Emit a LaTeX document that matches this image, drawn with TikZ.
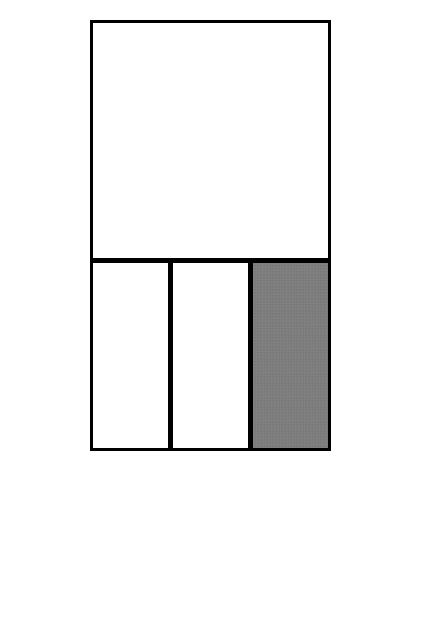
\documentclass[tikz,border=0pt]{standalone}
\usetikzlibrary{patterns}
\begin{document}
\begin{tikzpicture}[x=1pt,y=-1pt,
  frame/.style={draw=black,line width=3pt},
  divider/.style={draw=black,line width=4.5pt},
  shaded/.style={fill={rgb,255:red,128;green,128;blue,128}}]
\useasboundingbox (0,0) rectangle (420,620);
\fill[white] (0,0) rectangle (420,620);
% shaded cell
\path[shaded] (250.5,260.5) rectangle (329.5,449.5);
\path[pattern=dots,pattern color={rgb,255:red,90;green,90;blue,90}] (250.5,260.5) rectangle (329.5,449.5);
% dividers
\draw[divider] (91.5,260.5) -- (329.5,260.5);
\draw[divider] (170.5,260.5) -- (170.5,449.5);
\draw[divider] (250.5,260.5) -- (250.5,449.5);
% outer frame
\draw[frame] (91.5,21.5) rectangle (329.5,449.5);
\end{tikzpicture}
\end{document}
